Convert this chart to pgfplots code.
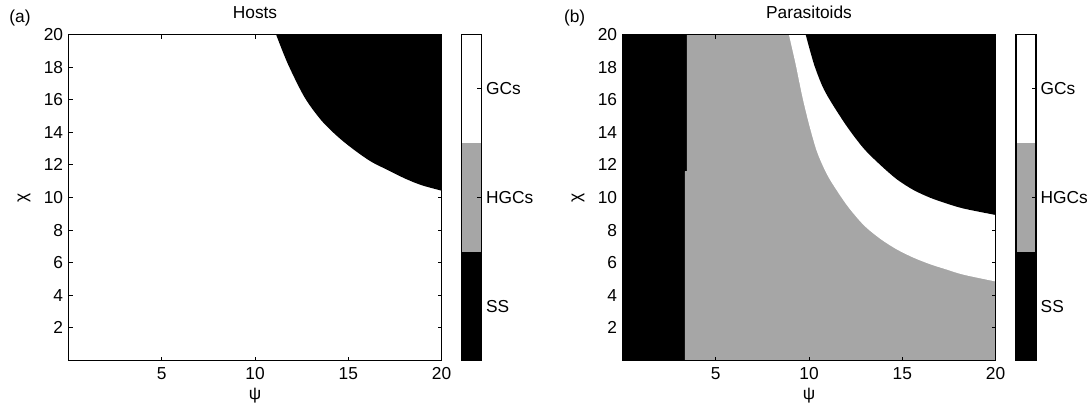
\documentclass[border=0pt]{standalone}
\usepackage{fontspec}
\setmainfont{Liberation Sans}
\usepackage{pgfplots}
\pgfplotsset{compat=1.18}
\definecolor{hgcgray}{gray}{0.65}

\newcommand{\lblfont}{\fontsize{13}{15}\selectfont}

\pgfplotsset{
  regime/.style={
    scale only axis,
    width=279.75pt, height=244.5pt,
    xmin=0, xmax=20, ymin=0, ymax=20,
    xtick={5,10,15,20}, ytick={2,4,...,20},
    tick align=inside,
    major tick length=3pt,
    axis line style={line width=1pt},
    every tick/.style={black, line width=0.7pt},
    tick label style={font=\lblfont},
    /pgf/number format/assume math mode=true,
    yticklabel style={xshift=-0.5pt},
    xticklabel style={yshift=-1.5pt},
    axis on top,
    xlabel={ψ}, ylabel={χ},
    xlabel style={at={(axis description cs:0.5,-0.107)}, anchor=center, font=\lblfont},
    ylabel style={at={(axis description cs:-0.119,0.5)}, anchor=center, font=\lblfont},
    title style={at={(axis description cs:0.5,1.044)}, anchor=center, font=\lblfont},
  },
  cbar/.style={
    scale only axis,
    width=15pt, height=244.5pt,
    xmin=0, xmax=1, ymin=0, ymax=3,
    xtick=\empty,
    ytick={0.5,1.5,2.5},
    yticklabels={SS,HGCs,GCs},
    ytick pos=right,
    yticklabel pos=right,
    tick align=inside,
    major tick length=3pt,
    axis line style={line width=1pt},
    every tick/.style={black, line width=0.7pt},
    tick label style={font=\lblfont},
    axis on top,
  },
  boundary/.style={draw=none, smooth, tension=0.5},
}

\begin{document}
\begin{tikzpicture}
\useasboundingbox (0,0) rectangle (815.25pt,303pt);

% ---------------- Hosts ----------------
\begin{axis}[regime, at={(51.375pt,32.625pt)}, anchor=south west, title={Hosts}]
  % stable-state region (upper right)
  \addplot[boundary, fill=black] coordinates {
    (11.13,20) (11.76,18.2) (12.65,16.16) (13.55,14.74) (14.45,13.72)
    (15.34,12.9) (16.24,12.19) (17.13,11.68) (18.03,11.17) (18.92,10.76)
    (20,10.42)
  } -- (20,20) -- cycle;
\end{axis}
\begin{axis}[cbar, at={(346.1pt,32.625pt)}, anchor=south west]
  \addplot[fill=black, draw=none] coordinates {(0,0) (1,0) (1,1) (0,1)};
  \addplot[fill=hgcgray, draw=none] coordinates {(0,1) (1,1) (1,2) (0,2)};
  \addplot[fill=white, draw=none] coordinates {(0,2) (1,2) (1,3) (0,3)};
\end{axis}

% ---------------- Parasitoids ----------------
\begin{axis}[regime, at={(466.875pt,32.625pt)}, anchor=south west, title={Parasitoids}]
  % stable state at small psi
  \addplot[fill=black, draw=none] coordinates {
    (0,0) (3.35,0) (3.35,11.6) (3.45,11.6) (3.45,20) (0,20)
  };
  % host-generation cycles
  \addplot[fill=hgcgray, draw=none] coordinates {
    (3.35,0) (20,0) (20,20) (3.45,20) (3.45,11.6) (3.35,11.6)
  };
  % generation cycles
  \addplot[boundary, fill=white] coordinates {
    (8.92,20) (9.28,18.2) (9.64,16.2) (10.0,14.5) (10.4,12.9) (10.8,11.8)
    (11.2,10.95) (12.05,9.5) (12.94,8.3) (13.84,7.45) (14.73,6.8)
    (15.62,6.3) (16.51,5.9) (17.41,5.57) (18.3,5.26) (20,4.85)
  } -- (20,20) -- cycle;
  % stable state at large psi and chi
  \addplot[boundary, fill=black] coordinates {
    (9.82,20) (10.26,18.2) (10.71,16.85) (11.16,15.9) (12.05,14.33)
    (12.94,13.0) (13.84,11.98) (14.73,11.1) (15.62,10.45) (16.51,9.98)
    (17.41,9.62) (18.3,9.32) (20,8.93)
  } -- (20,20) -- cycle;
\end{axis}
\begin{axis}[cbar, at={(762pt,32.625pt)}, anchor=south west]
  \addplot[fill=black, draw=none] coordinates {(0,0) (1,0) (1,1) (0,1)};
  \addplot[fill=hgcgray, draw=none] coordinates {(0,1) (1,1) (1,2) (0,2)};
  \addplot[fill=white, draw=none] coordinates {(0,2) (1,2) (1,3) (0,3)};
\end{axis}

\node[font=\lblfont, anchor=center] at (15pt,289.5pt) {(a)};
\node[font=\lblfont, anchor=center] at (431pt,289.5pt) {(b)};
\end{tikzpicture}
\end{document}
